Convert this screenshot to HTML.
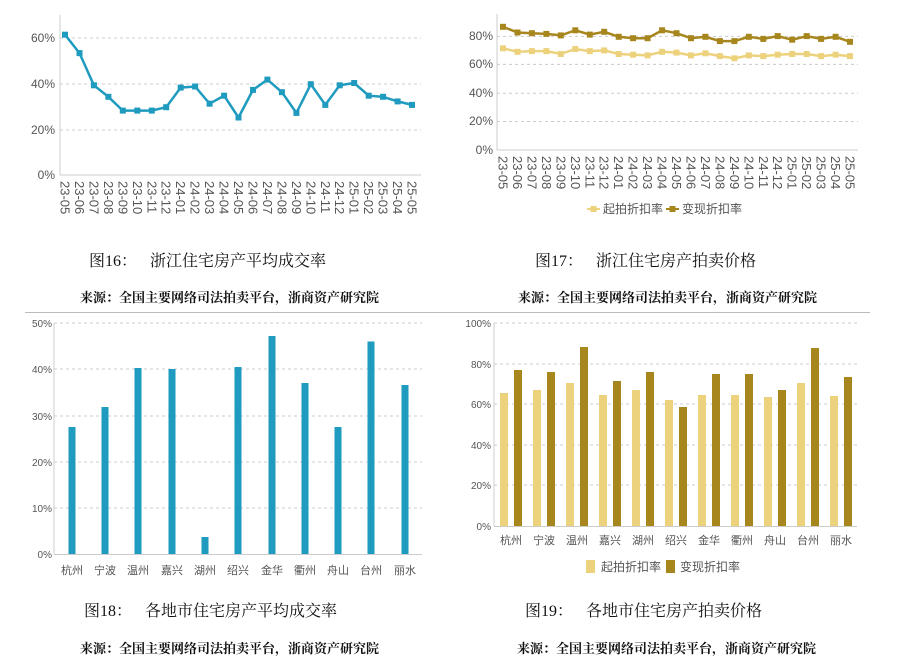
<!DOCTYPE html>
<html><head><meta charset="utf-8"><style>
body{margin:0;background:#fff;width:900px;height:662px;overflow:hidden}
svg{display:block}
.t{font-family:"Liberation Sans","Noto Sans CJK SC",sans-serif;fill:#555}
.ser{font-family:"Liberation Serif","Noto Serif CJK SC",serif;fill:#111}
.g{stroke:#ccc;stroke-dasharray:3,3;stroke-width:1}
</style></head><body>
<svg width="900" height="662" viewBox="0 0 900 662" xmlns="http://www.w3.org/2000/svg">
<!-- Chart 16 -->
<g>
<line class="g" x1="60" y1="38" x2="421" y2="38"/><line class="g" x1="60" y1="84" x2="421" y2="84"/><line class="g" x1="60" y1="130" x2="421" y2="130"/>
<line x1="60" y1="15" x2="60" y2="175" stroke="#ccc"/><line x1="60" y1="175" x2="421" y2="175" stroke="#ccc"/>
<g class="t" font-size="12" text-anchor="end"><text x="55" y="42">60%</text><text x="55" y="88">40%</text><text x="55" y="134">20%</text><text x="55" y="179">0%</text></g>
<polyline fill="none" stroke="#1e9bbf" stroke-width="2.5" points="65,34.7 79.5,53.1 93.9,85.3 108.4,96.8 122.8,110.6 137.3,110.6 151.8,110.6 166.2,107.2 180.7,87.6 195.1,86.5 209.6,103.7 224.1,95.7 238.5,117.5 253,89.9 267.4,79.6 281.9,92.2 296.4,112.9 310.8,84.2 325.3,104.9 339.7,85.3 354.2,83 368.7,95.7 383.1,96.8 397.6,101.4 412,104.9"/>
<g fill="#1e9bbf"><rect x="62" y="31.7" width="6" height="6"/><rect x="76.5" y="50.1" width="6" height="6"/><rect x="90.9" y="82.3" width="6" height="6"/><rect x="105.4" y="93.8" width="6" height="6"/><rect x="119.8" y="107.6" width="6" height="6"/><rect x="134.3" y="107.6" width="6" height="6"/><rect x="148.8" y="107.6" width="6" height="6"/><rect x="163.2" y="104.2" width="6" height="6"/><rect x="177.7" y="84.6" width="6" height="6"/><rect x="192.1" y="83.5" width="6" height="6"/><rect x="206.6" y="100.7" width="6" height="6"/><rect x="221.1" y="92.7" width="6" height="6"/><rect x="235.5" y="114.5" width="6" height="6"/><rect x="250" y="86.9" width="6" height="6"/><rect x="264.4" y="76.6" width="6" height="6"/><rect x="278.9" y="89.2" width="6" height="6"/><rect x="293.4" y="109.9" width="6" height="6"/><rect x="307.8" y="81.2" width="6" height="6"/><rect x="322.3" y="101.9" width="6" height="6"/><rect x="336.7" y="82.3" width="6" height="6"/><rect x="351.2" y="80" width="6" height="6"/><rect x="365.7" y="92.7" width="6" height="6"/><rect x="380.1" y="93.8" width="6" height="6"/><rect x="394.6" y="98.4" width="6" height="6"/><rect x="409" y="101.9" width="6" height="6"/></g>
<g class="t" font-size="13" fill="#333">
<text transform="translate(60.5,181) rotate(90)">23-05</text><text transform="translate(75,181) rotate(90)">23-06</text><text transform="translate(89.4,181) rotate(90)">23-07</text><text transform="translate(103.9,181) rotate(90)">23-08</text><text transform="translate(118.3,181) rotate(90)">23-09</text><text transform="translate(132.8,181) rotate(90)">23-10</text><text transform="translate(147.3,181) rotate(90)">23-11</text><text transform="translate(161.7,181) rotate(90)">23-12</text><text transform="translate(176.2,181) rotate(90)">24-01</text><text transform="translate(190.6,181) rotate(90)">24-02</text><text transform="translate(205.1,181) rotate(90)">24-03</text><text transform="translate(219.6,181) rotate(90)">24-04</text><text transform="translate(234,181) rotate(90)">24-05</text><text transform="translate(248.5,181) rotate(90)">24-06</text><text transform="translate(262.9,181) rotate(90)">24-07</text><text transform="translate(277.4,181) rotate(90)">24-08</text><text transform="translate(291.9,181) rotate(90)">24-09</text><text transform="translate(306.3,181) rotate(90)">24-10</text><text transform="translate(320.8,181) rotate(90)">24-11</text><text transform="translate(335.2,181) rotate(90)">24-12</text><text transform="translate(349.7,181) rotate(90)">25-01</text><text transform="translate(364.2,181) rotate(90)">25-02</text><text transform="translate(378.6,181) rotate(90)">25-03</text><text transform="translate(393.1,181) rotate(90)">25-04</text><text transform="translate(407.5,181) rotate(90)">25-05</text>
</g>
</g>
<!-- Chart 17 -->
<g>
<line class="g" x1="497" y1="36.4" x2="858" y2="36.4"/><line class="g" x1="497" y1="64.4" x2="858" y2="64.4"/><line class="g" x1="497" y1="93.2" x2="858" y2="93.2"/><line class="g" x1="497" y1="121.5" x2="858" y2="121.5"/>
<line x1="497" y1="14" x2="497" y2="150" stroke="#ccc"/><line x1="497" y1="150" x2="858" y2="150" stroke="#ccc"/>
<g class="t" font-size="12" text-anchor="end"><text x="493" y="40">80%</text><text x="493" y="68">60%</text><text x="493" y="97">40%</text><text x="493" y="125">20%</text><text x="493" y="154">0%</text></g>
<polyline fill="none" stroke="#a8861e" stroke-width="2.5" points="503,26.8 517.5,32.5 531.9,33.2 546.4,33.9 560.8,35.4 575.3,30.3 589.8,34.6 604.2,31.8 618.7,36.8 633.1,38.2 647.6,38.2 662.1,30.3 676.5,33.2 691,38.2 705.4,36.8 719.9,41.1 734.4,41.1 748.8,36.8 763.3,38.9 777.7,36.1 792.2,39.7 806.7,36.1 821.1,38.9 835.6,36.8 850,41.8"/>
<polyline fill="none" stroke="#edd27d" stroke-width="2.5" points="503,48.3 517.5,51.8 531.9,51.1 546.4,51.1 560.8,54 575.3,49 589.8,51.1 604.2,50.4 618.7,54 633.1,54.7 647.6,55.4 662.1,51.8 676.5,52.6 691,55.4 705.4,53.3 719.9,56.1 734.4,58.3 748.8,55.4 763.3,56.1 777.7,54.7 792.2,54 806.7,54 821.1,56.1 835.6,54.7 850,56.1"/>
<g fill="#a8861e"><rect x="500" y="23.8" width="6" height="6"/><rect x="514.5" y="29.5" width="6" height="6"/><rect x="528.9" y="30.2" width="6" height="6"/><rect x="543.4" y="30.9" width="6" height="6"/><rect x="557.8" y="32.4" width="6" height="6"/><rect x="572.3" y="27.3" width="6" height="6"/><rect x="586.8" y="31.6" width="6" height="6"/><rect x="601.2" y="28.8" width="6" height="6"/><rect x="615.7" y="33.8" width="6" height="6"/><rect x="630.1" y="35.2" width="6" height="6"/><rect x="644.6" y="35.2" width="6" height="6"/><rect x="659.1" y="27.3" width="6" height="6"/><rect x="673.5" y="30.2" width="6" height="6"/><rect x="688" y="35.2" width="6" height="6"/><rect x="702.4" y="33.8" width="6" height="6"/><rect x="716.9" y="38.1" width="6" height="6"/><rect x="731.4" y="38.1" width="6" height="6"/><rect x="745.8" y="33.8" width="6" height="6"/><rect x="760.3" y="35.9" width="6" height="6"/><rect x="774.7" y="33.1" width="6" height="6"/><rect x="789.2" y="36.7" width="6" height="6"/><rect x="803.7" y="33.1" width="6" height="6"/><rect x="818.1" y="35.9" width="6" height="6"/><rect x="832.6" y="33.8" width="6" height="6"/><rect x="847" y="38.8" width="6" height="6"/></g>
<g fill="#edd27d"><rect x="500" y="45.3" width="6" height="6"/><rect x="514.5" y="48.8" width="6" height="6"/><rect x="528.9" y="48.1" width="6" height="6"/><rect x="543.4" y="48.1" width="6" height="6"/><rect x="557.8" y="51" width="6" height="6"/><rect x="572.3" y="46" width="6" height="6"/><rect x="586.8" y="48.1" width="6" height="6"/><rect x="601.2" y="47.4" width="6" height="6"/><rect x="615.7" y="51" width="6" height="6"/><rect x="630.1" y="51.7" width="6" height="6"/><rect x="644.6" y="52.4" width="6" height="6"/><rect x="659.1" y="48.8" width="6" height="6"/><rect x="673.5" y="49.6" width="6" height="6"/><rect x="688" y="52.4" width="6" height="6"/><rect x="702.4" y="50.3" width="6" height="6"/><rect x="716.9" y="53.1" width="6" height="6"/><rect x="731.4" y="55.3" width="6" height="6"/><rect x="745.8" y="52.4" width="6" height="6"/><rect x="760.3" y="53.1" width="6" height="6"/><rect x="774.7" y="51.7" width="6" height="6"/><rect x="789.2" y="51" width="6" height="6"/><rect x="803.7" y="51" width="6" height="6"/><rect x="818.1" y="53.1" width="6" height="6"/><rect x="832.6" y="51.7" width="6" height="6"/><rect x="847" y="53.1" width="6" height="6"/></g>
<g class="t" font-size="13" fill="#333">
<text transform="translate(498.5,156) rotate(90)">23-05</text><text transform="translate(513,156) rotate(90)">23-06</text><text transform="translate(527.4,156) rotate(90)">23-07</text><text transform="translate(541.9,156) rotate(90)">23-08</text><text transform="translate(556.3,156) rotate(90)">23-09</text><text transform="translate(570.8,156) rotate(90)">23-10</text><text transform="translate(585.3,156) rotate(90)">23-11</text><text transform="translate(599.7,156) rotate(90)">23-12</text><text transform="translate(614.2,156) rotate(90)">24-01</text><text transform="translate(628.6,156) rotate(90)">24-02</text><text transform="translate(643.1,156) rotate(90)">24-03</text><text transform="translate(657.6,156) rotate(90)">24-04</text><text transform="translate(672,156) rotate(90)">24-05</text><text transform="translate(686.5,156) rotate(90)">24-06</text><text transform="translate(700.9,156) rotate(90)">24-07</text><text transform="translate(715.4,156) rotate(90)">24-08</text><text transform="translate(729.9,156) rotate(90)">24-09</text><text transform="translate(744.3,156) rotate(90)">24-10</text><text transform="translate(758.8,156) rotate(90)">24-11</text><text transform="translate(773.2,156) rotate(90)">24-12</text><text transform="translate(787.7,156) rotate(90)">25-01</text><text transform="translate(802.2,156) rotate(90)">25-02</text><text transform="translate(816.6,156) rotate(90)">25-03</text><text transform="translate(831.1,156) rotate(90)">25-04</text><text transform="translate(845.5,156) rotate(90)">25-05</text>
</g>
<line x1="587" y1="209" x2="600" y2="209" stroke="#edd27d" stroke-width="2"/><rect x="590.5" y="206" width="6" height="6" fill="#edd27d"/>
<text class="t" x="603" y="213" font-size="12" fill="#6a7a8a">起拍折扣率</text>
<line x1="666" y1="209" x2="679" y2="209" stroke="#a8861e" stroke-width="2"/><rect x="669.5" y="206" width="6" height="6" fill="#a8861e"/>
<text class="t" x="682" y="213" font-size="12" fill="#6a7a8a">变现折扣率</text>
</g>
<!-- captions top -->
<text class="ser" x="89" y="266" font-size="16">图16：</text><text class="ser" x="150" y="266" font-size="16">浙江住宅房产平均成交率</text>
<text class="ser" x="80" y="302" font-size="13" font-weight="bold">来源：全国主要网络司法拍卖平台，浙商资产研究院</text>
<text class="ser" x="535" y="266" font-size="16">图17：</text><text class="ser" x="596" y="266" font-size="16">浙江住宅房产拍卖价格</text>
<text class="ser" x="518" y="302" font-size="13" font-weight="bold">来源：全国主要网络司法拍卖平台，浙商资产研究院</text>
<line x1="25" y1="312.5" x2="870" y2="312.5" stroke="#bbb"/>
<!-- Chart 18 -->
<g>
<line class="g" x1="54" y1="323" x2="422" y2="323"/><line class="g" x1="54" y1="369" x2="422" y2="369"/><line class="g" x1="54" y1="416" x2="422" y2="416"/><line class="g" x1="54" y1="462" x2="422" y2="462"/><line class="g" x1="54" y1="508" x2="422" y2="508"/>
<line x1="54" y1="323" x2="54" y2="554" stroke="#ccc"/><line x1="54" y1="554.5" x2="422" y2="554.5" stroke="#ccc"/>
<g class="t" font-size="10" text-anchor="end"><text x="52" y="327">50%</text><text x="52" y="373">40%</text><text x="52" y="420">30%</text><text x="52" y="466">20%</text><text x="52" y="512">10%</text><text x="52" y="558">0%</text></g>
<g fill="#1e9bbf"><rect x="68.5" y="427" width="7" height="127"/><rect x="101.5" y="407" width="7" height="147"/><rect x="134.5" y="368" width="7" height="186"/><rect x="168.5" y="369" width="7" height="185"/><rect x="201.5" y="537" width="7" height="17"/><rect x="234.5" y="367" width="7" height="187"/><rect x="268.5" y="336" width="7" height="218"/><rect x="301.5" y="383" width="7" height="171"/><rect x="334.5" y="427" width="7" height="127"/><rect x="367.5" y="341.5" width="7" height="212.5"/><rect x="401.5" y="385" width="7" height="169"/></g>
<g class="t" font-size="11" text-anchor="middle" fill="#444"><text x="72" y="574">杭州</text><text x="105" y="574">宁波</text><text x="138" y="574">温州</text><text x="172" y="574">嘉兴</text><text x="205" y="574">湖州</text><text x="238" y="574">绍兴</text><text x="272" y="574">金华</text><text x="305" y="574">衢州</text><text x="338" y="574">舟山</text><text x="371" y="574">台州</text><text x="405" y="574">丽水</text></g>
</g>
<!-- Chart 19 -->
<g>
<line class="g" x1="494" y1="323" x2="857" y2="323"/><line class="g" x1="494" y1="364" x2="857" y2="364"/><line class="g" x1="494" y1="404" x2="857" y2="404"/><line class="g" x1="494" y1="445" x2="857" y2="445"/><line class="g" x1="494" y1="485" x2="857" y2="485"/>
<line x1="494" y1="323" x2="494" y2="526" stroke="#ccc"/><line x1="494" y1="526.5" x2="857" y2="526.5" stroke="#ccc"/>
<g class="t" font-size="10" text-anchor="end"><text x="491" y="327">100%</text><text x="491" y="368">80%</text><text x="491" y="408">60%</text><text x="491" y="449">40%</text><text x="491" y="489">20%</text><text x="491" y="530">0%</text></g>
<g fill="#edd27d"><rect x="500" y="393" width="8" height="133"/><rect x="533" y="390" width="8" height="136"/><rect x="566" y="383" width="8" height="143"/><rect x="599" y="395" width="8" height="131"/><rect x="632" y="390" width="8" height="136"/><rect x="665" y="400" width="8" height="126"/><rect x="698" y="395" width="8" height="131"/><rect x="731" y="395" width="8" height="131"/><rect x="764" y="397" width="8" height="129"/><rect x="797" y="383" width="8" height="143"/><rect x="830" y="396" width="8" height="130"/></g>
<g fill="#a8861e"><rect x="514" y="370" width="8" height="156"/><rect x="547" y="372" width="8" height="154"/><rect x="580" y="347" width="8" height="179"/><rect x="613" y="381" width="8" height="145"/><rect x="646" y="372" width="8" height="154"/><rect x="679" y="407" width="8" height="119"/><rect x="712" y="374" width="8" height="152"/><rect x="745" y="374" width="8" height="152"/><rect x="778" y="390" width="8" height="136"/><rect x="811" y="348" width="8" height="178"/><rect x="844" y="377" width="8" height="149"/></g>
<g class="t" font-size="11" text-anchor="middle" fill="#444"><text x="511" y="544">杭州</text><text x="544" y="544">宁波</text><text x="577" y="544">温州</text><text x="610" y="544">嘉兴</text><text x="643" y="544">湖州</text><text x="676" y="544">绍兴</text><text x="709" y="544">金华</text><text x="742" y="544">衢州</text><text x="775" y="544">舟山</text><text x="808" y="544">台州</text><text x="841" y="544">丽水</text></g>
<rect x="586" y="560" width="9" height="13" fill="#edd27d"/><text class="t" x="601" y="571" font-size="12" fill="#6a7a8a">起拍折扣率</text>
<rect x="666" y="560" width="9" height="13" fill="#a8861e"/><text class="t" x="680" y="571" font-size="12" fill="#6a7a8a">变现折扣率</text>
</g>
<!-- captions bottom -->
<text class="ser" x="84" y="616" font-size="16">图18：</text><text class="ser" x="145" y="616" font-size="16">各地市住宅房产平均成交率</text>
<text class="ser" x="80" y="653" font-size="13" font-weight="bold">来源：全国主要网络司法拍卖平台，浙商资产研究院</text>
<text class="ser" x="525" y="616" font-size="16">图19：</text><text class="ser" x="586" y="616" font-size="16">各地市住宅房产拍卖价格</text>
<text class="ser" x="517" y="653" font-size="13" font-weight="bold">来源：全国主要网络司法拍卖平台，浙商资产研究院</text>
</svg>
</body></html>
